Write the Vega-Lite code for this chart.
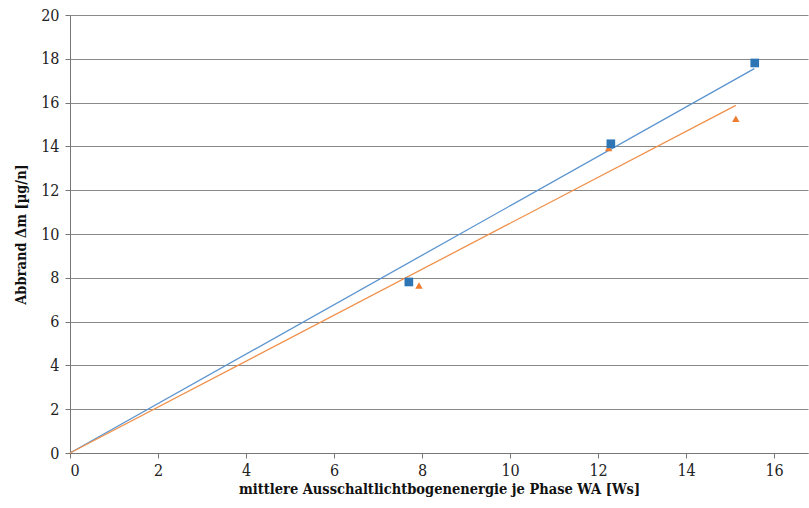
{
  "$schema": "https://vega.github.io/schema/vega-lite/v6.json",
  "width": 738,
  "height": 438,
  "autosize": "none",
  "padding": {"left": 70, "top": 15, "right": 1, "bottom": 55},
  "background": "white",
  "config": {
    "view": {"stroke": null},
    "font": "DejaVu Serif Condensed",
    "axis": {"labelFont": "DejaVu Serif Condensed", "titleFont": "DejaVu Serif Condensed", "labelFontSize": 16, "titleFontSize": 14.5, "labelColor": "#222", "titleColor": "#111", "domainColor": "#777", "tickColor": "#777", "tickSize": 5}
  },
  "data": {"values": [
    {"series": "A", "kind": "point", "x": 7.70, "y": 7.81},
    {"series": "A", "kind": "point", "x": 12.29, "y": 14.12},
    {"series": "A", "kind": "point", "x": 15.56, "y": 17.81},
    {"series": "B", "kind": "point", "x": 7.93, "y": 7.65},
    {"series": "B", "kind": "point", "x": 12.24, "y": 13.93},
    {"series": "B", "kind": "point", "x": 15.13, "y": 15.26},
    {"series": "A", "kind": "line", "x": 0, "y": 0},
    {"series": "A", "kind": "line", "x": 15.55, "y": 17.55},
    {"series": "B", "kind": "line", "x": 0, "y": 0},
    {"series": "B", "kind": "line", "x": 15.13, "y": 15.87}
  ]},
  "encoding": {
    "x": {"field": "x", "type": "quantitative", "scale": {"domain": [0, 16.77], "nice": false},
      "axis": {"values": [0,2,4,6,8,10,12,14,16], "grid": false, "title": "mittlere Ausschaltlichtbogenenergie je Phase WA [Ws]", "titleFontWeight": "bold", "titlePadding": 4, "labelPadding": 4}},
    "y": {"field": "y", "type": "quantitative", "scale": {"domain": [0, 20], "nice": false},
      "axis": {"values": [0,2,4,6,8,10,12,14,16,18,20], "grid": true, "gridColor": "#8a8a8a", "gridWidth": 1, "title": "Abbrand Δm [µg/n]", "titleFontWeight": "bold", "titlePadding": 12, "labelPadding": 6}}
  },
  "layer": [
    {
      "transform": [{"filter": "datum.kind == 'line'"}],
      "mark": {"type": "line", "strokeWidth": 1.3},
      "encoding": {
        "detail": {"field": "series"},
        "color": {"field": "series", "type": "nominal", "scale": {"domain": ["A", "B"], "range": ["#5b94cf", "#f0904a"]}, "legend": null}
      }
    },
    {
      "transform": [{"filter": "datum.kind == 'point' && datum.series == 'B'"}],
      "mark": {"type": "point", "shape": "triangle-up", "filled": true, "size": 55, "color": "#ed7d31", "opacity": 1}
    },
    {
      "transform": [{"filter": "datum.kind == 'point' && datum.series == 'A'"}],
      "mark": {"type": "point", "shape": "square", "filled": true, "size": 75, "color": "#2e75b6", "opacity": 1}
    }
  ]
}
